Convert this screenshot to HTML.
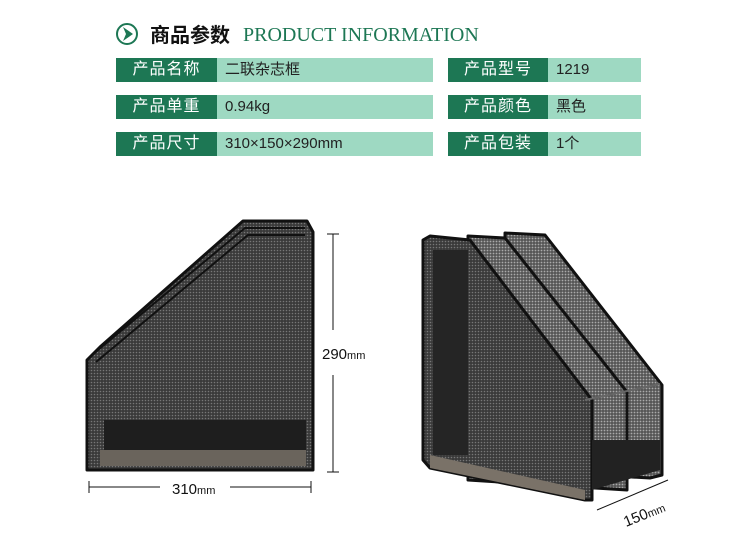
<!DOCTYPE html>
<html><head><meta charset="utf-8"><style>
body{margin:0;width:750px;height:543px;background:#fff;position:relative;overflow:hidden;font-family:"Liberation Sans","Noto Sans CJK SC",sans-serif}
.a{position:absolute}
.l{background:#1d7754;color:#fff;font-size:16px;line-height:24px;text-align:center;letter-spacing:1px}
.v{background:#9ed9c2;color:#222;font-size:15px;line-height:24px;padding-left:8px;box-sizing:border-box}
</style></head><body>
<svg class="a" style="left:0;top:0" width="750" height="543">
<circle cx="127" cy="34" r="10" fill="none" stroke="#1d7754" stroke-width="2"/>
<polygon points="123,27 133,34 123,41 126,34" fill="#1d7754"/>
<defs>
<pattern id="m" width="3" height="3" patternUnits="userSpaceOnUse"><rect width="3" height="3" fill="#3a3a3a"/><circle cx="1.5" cy="1.5" r="0.8" fill="#777"/></pattern>
<pattern id="m2" width="3" height="3" patternUnits="userSpaceOnUse"><rect width="3" height="3" fill="#555"/><circle cx="1.5" cy="1.5" r="0.9" fill="#aaa"/></pattern>
</defs>
<!-- left holder -->
<polygon points="87,470 87,360 100,347 243,221 307,221 313,232 313,470" fill="url(#m)" stroke="#111" stroke-width="3" stroke-linejoin="round"/>
<polyline points="92,355 245,228 305,228" fill="none" stroke="#111" stroke-width="2"/>
<polyline points="96,362 248,235 305,235" fill="none" stroke="#111" stroke-width="2"/>
<rect x="104" y="420" width="202" height="30" fill="#1e1e1e"/>
<rect x="100" y="450" width="206" height="16" fill="#6a645c"/>
<line x1="333" y1="234" x2="333" y2="330" stroke="#111"/><line x1="333" y1="375" x2="333" y2="472" stroke="#111"/>
<line x1="327" y1="234" x2="339" y2="234" stroke="#111"/><line x1="327" y1="472" x2="339" y2="472" stroke="#111"/>
<line x1="89" y1="487" x2="160" y2="487" stroke="#111"/><line x1="230" y1="487" x2="311" y2="487" stroke="#111"/>
<line x1="89" y1="481" x2="89" y2="493" stroke="#111"/><line x1="311" y1="481" x2="311" y2="493" stroke="#111"/>
<text x="322" y="359" font-size="15" fill="#111" font-family="Liberation Sans">290<tspan font-size="11">mm</tspan></text>
<text x="172" y="494" font-size="15" fill="#111" font-family="Liberation Sans">310<tspan font-size="11">mm</tspan></text>
<!-- right holder -->
<polygon points="505,233 545,235 662,385 662,475 650,478 505,470" fill="url(#m2)" stroke="#111" stroke-width="3" stroke-linejoin="round"/>
<polygon points="468,236 505,238 627,392 627,490 468,480" fill="url(#m2)" stroke="#111" stroke-width="3" stroke-linejoin="round"/>
<polygon points="423,240 430,236 470,240 592,400 592,500 585,500 430,468 423,460" fill="url(#m)" stroke="#111" stroke-width="3" stroke-linejoin="round"/>
<rect x="433" y="250" width="35" height="205" fill="#252525"/>
<polygon points="430,455 585,490 585,500 430,468" fill="#7a7268"/>
<polygon points="592,440 660,440 660,470 592,490" fill="#222"/>
<line x1="585" y1="400" x2="660" y2="384" stroke="#666" stroke-width="2"/>
<line x1="597" y1="510" x2="668" y2="480" stroke="#111"/>
<text x="626" y="527" font-size="15" fill="#111" font-family="Liberation Sans" transform="rotate(-22 626 527)">150<tspan font-size="11">mm</tspan></text>
</svg>
<div class="a" style="left:150px;top:20px;font-size:20px;font-weight:bold;color:#111;line-height:28px;font-family:'Noto Sans CJK SC',sans-serif">商品参数</div>
<div class="a" style="left:243px;top:21px;font-size:20px;color:#1d7754;line-height:28px;font-family:'Liberation Serif',serif">PRODUCT INFORMATION</div>

<div class="a l" style="left:116px;top:58px;width:101px;height:24px">产品名称</div><div class="a v" style="left:217px;top:58px;width:216px;height:24px">二联杂志框</div>
<div class="a l" style="left:116px;top:95px;width:101px;height:24px">产品单重</div><div class="a v" style="left:217px;top:95px;width:216px;height:24px">0.94kg</div>
<div class="a l" style="left:116px;top:132px;width:101px;height:24px">产品尺寸</div><div class="a v" style="left:217px;top:132px;width:216px;height:24px">310×150×290mm</div>
<div class="a l" style="left:448px;top:58px;width:100px;height:24px">产品型号</div><div class="a v" style="left:548px;top:58px;width:93px;height:24px">1219</div>
<div class="a l" style="left:448px;top:95px;width:100px;height:24px">产品颜色</div><div class="a v" style="left:548px;top:95px;width:93px;height:24px">黑色</div>
<div class="a l" style="left:448px;top:132px;width:100px;height:24px">产品包装</div><div class="a v" style="left:548px;top:132px;width:93px;height:24px">1个</div>
</body></html>
